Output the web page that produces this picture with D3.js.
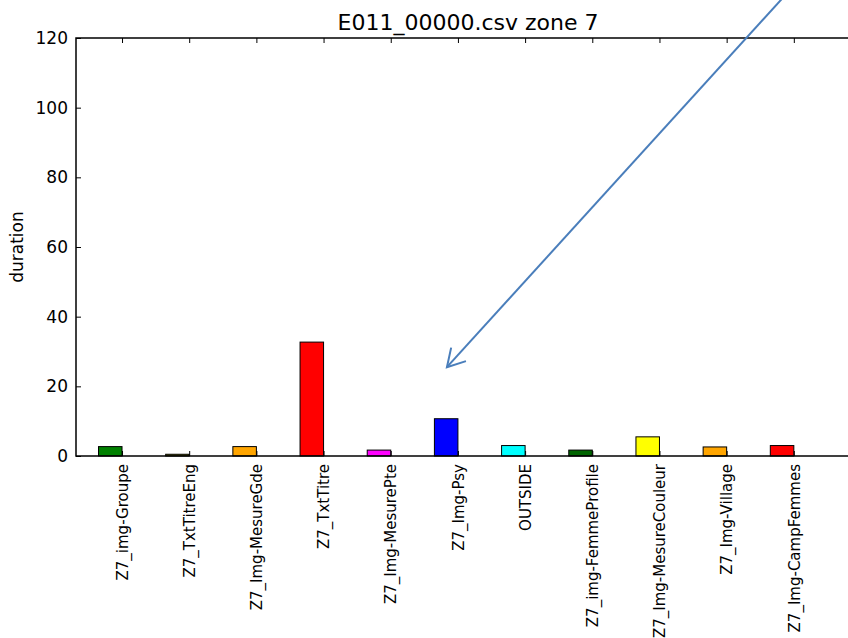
<!DOCTYPE html>
<html>
<head>
<meta charset="utf-8">
<script src="https://cdn.jsdelivr.net/npm/d3@7/dist/d3.min.js"></script>
<style>
  html, body { margin: 0; padding: 0; background: #fff; }
  svg { display: block; font-family: "DejaVu Sans", sans-serif; }
</style>
</head>
<body>
<div id="chart"></div>
<script>
const categories = ["Z7_img-Groupe", "Z7_TxtTitreEng", "Z7_Img-MesureGde", "Z7_TxtTitre",
  "Z7_Img-MesurePte", "Z7_Img-Psy", "OUTSIDE", "Z7_img-FemmeProfile",
  "Z7_Img-MesureCouleur", "Z7_Img-Village", "Z7_Img-CampFemmes"];
const durations = [2.7, 0.5, 2.7, 32.7, 1.7, 10.7, 3.0, 1.7, 5.5, 2.6, 3.0];
const barColors = ["#008000", "#808000", "#FFA500", "#FF0000", "#FF00FF", "#0000FF",
  "#00FFFF", "#006400", "#FFFF00", "#FFA500", "#FF0000"];
const yTicks = [0, 20, 40, 60, 80, 100, 120];
const titleText = "E011_00000.csv zone 7";
const yLabel = "duration";
// annotation arrow in data units: [start, tip]
const arrowStart = [10.35, 135];
const arrowTip = [5.186, 25.5];
const barWidth = 0.35;

const W = 848, H = 638;
const mLeft = 76, mTop = 38, mBottom = 456, mRight = 860;
const FONT = '"DejaVu Sans", sans-serif';

const svg = d3.select("#chart").append("svg").attr("width", W).attr("height", H);

const x = d3.scaleLinear().domain([-0.335, 11.335]).range([mLeft, mRight]);
const y = d3.scaleLinear().domain([0, 120]).range([mBottom, mTop]);

// bars
svg.append("g").selectAll("rect").data(durations).join("rect")
  .attr("x", (d, i) => x(i))
  .attr("width", (d, i) => x(i + barWidth) - x(i))
  .attr("y", d => y(d))
  .attr("height", d => y(0) - y(d))
  .attr("fill", (d, i) => barColors[i])
  .attr("stroke", "#000")
  .attr("stroke-width", 1);

const tickPos = categories.map((c, i) => i + barWidth);

// bottom axis (inward ticks) with rotated labels
const xAxisB = d3.axisBottom(x).tickValues(tickPos).tickSize(-5).tickFormat((d, i) => categories[i]);
const gb = svg.append("g").attr("transform", `translate(0,${mBottom})`).call(xAxisB)
  .attr("font-family", FONT);
gb.select(".domain").remove();
gb.selectAll(".tick line").attr("stroke", "#000").attr("stroke-width", 1);
gb.selectAll(".tick text")
  .attr("font-size", 15)
  .attr("fill", "#000")
  .attr("transform", "rotate(-90)")
  .attr("text-anchor", "end")
  .attr("x", -8)
  .attr("y", 0)
  .attr("dy", "0.35em");

// top axis (inward ticks, no labels)
const xAxisT = d3.axisTop(x).tickValues(tickPos).tickSize(-5).tickFormat("");
const gt = svg.append("g").attr("transform", `translate(0,${mTop})`).call(xAxisT);
gt.select(".domain").remove();
gt.selectAll(".tick line").attr("stroke", "#000").attr("stroke-width", 1);

// left axis (inward ticks)
const yAxis = d3.axisLeft(y).tickValues(yTicks).tickSize(-5).tickPadding(8).tickFormat(d3.format("d"));
const gl = svg.append("g").attr("transform", `translate(${mLeft},0)`).call(yAxis)
  .attr("font-family", FONT);
gl.select(".domain").remove();
gl.selectAll(".tick line").attr("stroke", "#000").attr("stroke-width", 1);
gl.selectAll(".tick text").attr("font-size", 17).attr("fill", "#000");

// right axis ticks (mostly off-canvas)
const yAxisR = d3.axisRight(y).tickValues(yTicks).tickSize(-5).tickFormat("");
const gr = svg.append("g").attr("transform", `translate(${mRight},0)`).call(yAxisR);
gr.select(".domain").remove();

// spines
svg.append("rect")
  .attr("x", mLeft).attr("y", mTop)
  .attr("width", mRight - mLeft).attr("height", mBottom - mTop)
  .attr("fill", "none").attr("stroke", "#000").attr("stroke-width", 1.5);

// title
svg.append("text")
  .attr("x", (mLeft + mRight) / 2).attr("y", 30)
  .attr("text-anchor", "middle")
  .attr("font-size", 22)
  .attr("fill", "#000")
  .text(titleText);

// y label
svg.append("text")
  .attr("transform", `translate(23,${(mTop + mBottom) / 2}) rotate(-90)`)
  .attr("text-anchor", "middle")
  .attr("font-size", 17)
  .attr("fill", "#000")
  .text(yLabel);

// annotation arrow
const sx = x(arrowStart[0]), sy = y(arrowStart[1]);
const tx = x(arrowTip[0]), ty = y(arrowTip[1]);
const ang = Math.atan2(sy - ty, sx - tx);
const headLen = 20, spread = Math.PI / 6;
const arrowColor = "#4A7EBB";
svg.append("line")
  .attr("x1", sx).attr("y1", sy).attr("x2", tx).attr("y2", ty)
  .attr("stroke", arrowColor).attr("stroke-width", 2);
svg.append("path")
  .attr("d", `M${tx + headLen * Math.cos(ang + spread)},${ty + headLen * Math.sin(ang + spread)} L${tx},${ty} L${tx + headLen * Math.cos(ang - spread)},${ty + headLen * Math.sin(ang - spread)}`)
  .attr("fill", "none").attr("stroke", arrowColor).attr("stroke-width", 2)
  .attr("stroke-linejoin", "miter");
</script>
</body>
</html>
